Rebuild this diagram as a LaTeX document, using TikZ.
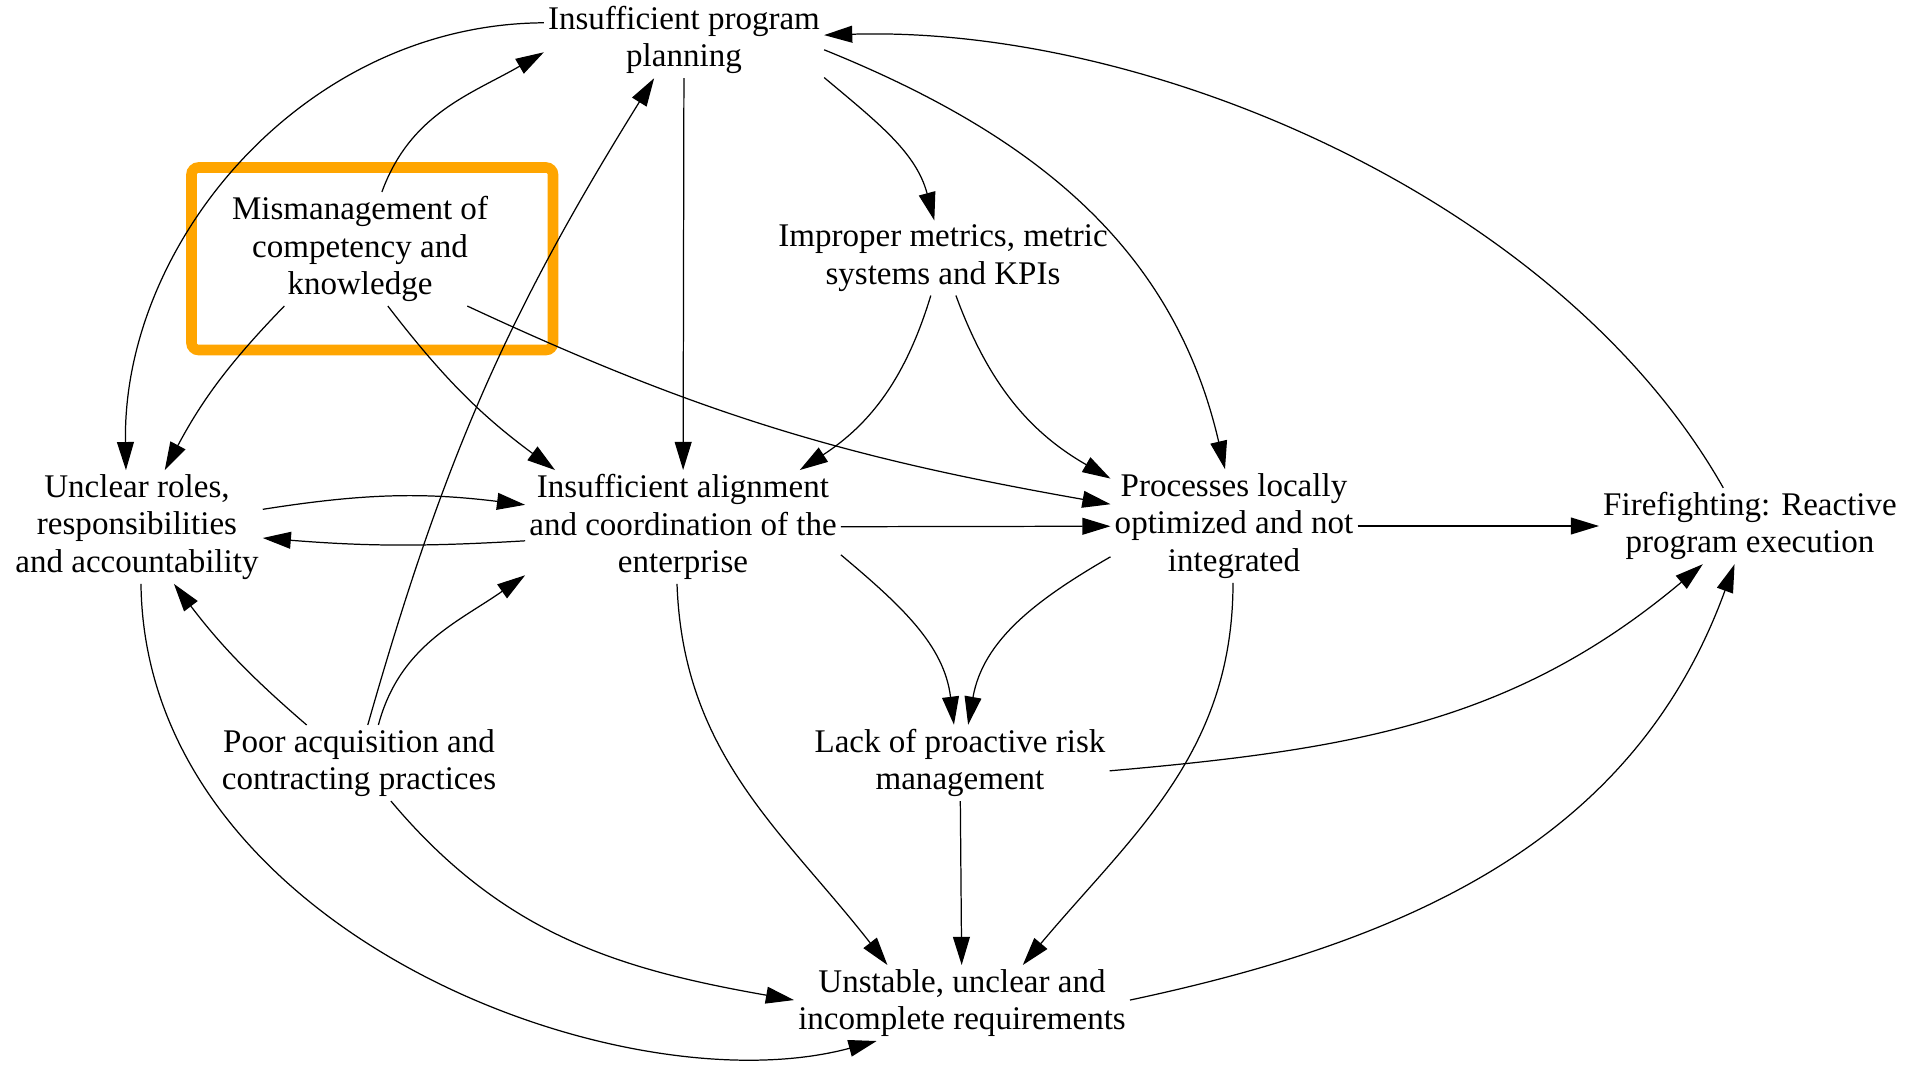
\documentclass[tikz,border=0pt]{standalone}
\usepackage{fontspec}
\setmainfont{Liberation Serif}
\usetikzlibrary{arrows.meta}
\definecolor{markorange}{RGB}{255,165,0}
\begin{document}
\begin{tikzpicture}[every node/.style={font=\fontsize{9.4}{10.7}\selectfont},
  cause/.style={align=center,inner sep=1pt},
  link/.style={-{Triangle[length=8pt,width=4.8pt]},line width=0.35pt},
  highlight/.style={draw=markorange,line width=3pt,rounded corners=2pt}]
\useasboundingbox (0,0) rectangle (19.07,-10.68);
\node[cause] (plan) at (6.84,-0.40) {Insufficient program\\planning};
\node[cause] (mism) at (3.60,-2.49) {Mismanagement of\\competency and\\knowledge};
\node[cause] (metr) at (9.43,-2.58) {Improper metrics, metric\\systems and KPIs};
\node[cause] (uncl) at (1.37,-5.27) {Unclear roles,\\responsibilities\\and accountability};
\node[cause] (alig) at (6.83,-5.27) {Insufficient alignment\\and coordination of the\\enterprise};
\node[cause] (proc) at (12.34,-5.26) {Processes locally\\optimized and not\\integrated};
\node[cause] (fire) at (17.50,-5.26) {Firefighting: Reactive\\program execution};
\node[cause] (poor) at (3.59,-7.63) {Poor acquisition and\\contracting practices};
\node[cause] (lack) at (9.60,-7.63) {Lack of proactive risk\\management};
\node[cause] (unst) at (9.62,-10.03) {Unstable, unclear and\\incomplete requirements};
\draw[highlight] (1.915,-1.675) rectangle (5.53,-3.50);
\draw[link] (plan.173) .. controls (3.04,-0.24) and (1.22,-2.43) .. (uncl.101);
\draw[link] (plan) -- (alig);
\draw[link] (plan.-15) to[out=-40,in=105] (metr.103);
\draw[link] (plan.-4) to[out=-22,in=103] (proc.99);
\draw[link] (mism.69) to[out=70,in=210] (plan.185);
\draw[link] (mism.217) to[bend right=8] (uncl.64);
\draw[link] (mism.296) to[bend right=8] (alig.156);
\draw[link] (mism.332) to[out=-25,in=170] (proc.170);
\draw[link] (metr.252) to[bend left=20] (alig.26);
\draw[link] (metr.289) to[bend right=20] (proc.159);
\draw[link] (uncl.8) to[bend left=8] (alig.172);
\draw[link] (uncl.274) .. controls (1.45,-9.30) and (6.20,-11.10) .. (unst.204);
\draw[link] (alig.185) to[bend left=4] (uncl.355);
\draw[link] (alig) -- (proc);
\draw[link] (alig.-10) to[out=-40,in=97] (lack.99);
\draw[link] (alig.264) to[out=-88,in=128] (unst.153);
\draw[link] (proc) -- (fire);
\draw[link] (proc.194) to[out=210,in=80] (lack.78);
\draw[link] (proc.269) to[out=-90,in=50] (unst.32);
\draw[link] (fire.125) .. controls (15.60,-2.00) and (11.50,-0.25) .. (plan.2);
\draw[link] (poor.77) to[bend left=8] (plan.232);
\draw[link] (poor.63) to[out=75,in=215] (alig.197);
\draw[link] (poor.144) to[bend left=6] (uncl.303);
\draw[link] (poor.310) to[out=-50,in=170] (unst.179);
\draw[link] (lack) -- (unst);
\draw[link] (lack.-3) to[out=5,in=220] (fire.219);
\draw[link] (unst.1) to[out=12,in=250] (fire.248);
\end{tikzpicture}
\end{document}
